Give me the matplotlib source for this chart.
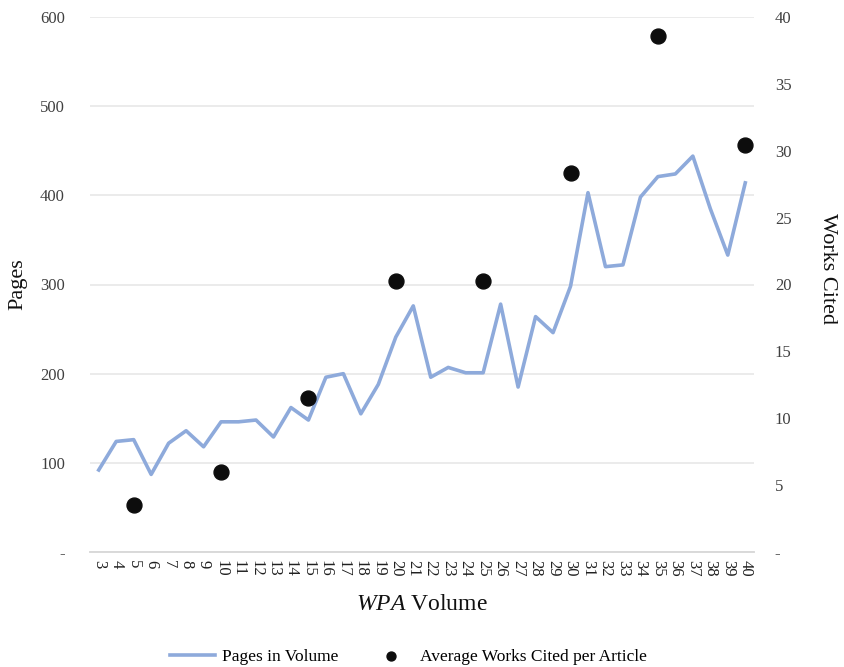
import matplotlib
matplotlib.use("Agg")
import matplotlib.pyplot as plt
from matplotlib.ticker import FuncFormatter

plt.rcParams['font.family'] = ['Liberation Serif', 'DejaVu Serif']
plt.rcParams['mathtext.fontset'] = 'custom'
plt.rcParams['mathtext.rm'] = 'Liberation Serif'
plt.rcParams['mathtext.it'] = 'Liberation Serif:italic'

volumes = list(range(3, 41))
pages = [92, 124, 126, 87, 122, 136, 118, 146, 146, 148, 129, 162, 148, 196, 200,
         155, 188, 241, 276, 196, 207, 201, 201, 278, 185, 264, 246, 298, 403, 320,
         322, 398, 421, 424, 444, 385, 333, 414]
cited_volumes = [5, 10, 15, 20, 25, 30, 35, 40]
cited_values = [3.5, 6.0, 11.5, 20.25, 20.25, 28.3, 38.6, 30.4]

line_color = '#8eaadb'
fig = plt.figure(figsize=(8.44, 6.67), dpi=100)
ax = fig.add_axes([90/844, 1-552/667, (754-90)/844, (552-17)/667])
ax2 = ax.twinx()

xpos = list(range(len(volumes)))
ln, = ax.plot(xpos, pages, color=line_color, lw=2.6, label='Pages in Volume', zorder=3)
cpos = [volumes.index(v) for v in cited_volumes]
sc = ax2.scatter(cpos, cited_values, s=115, color='#0d0d0d', zorder=4,
                 label='Average Works Cited per Article')

ax.set_xlim(-0.5, len(volumes) - 0.5)
ax.set_ylim(0, 600)
ax2.set_ylim(0, 40)
ax.set_yticks(range(0, 601, 100))
ax2.set_yticks(range(0, 41, 5))
fmt = FuncFormatter(lambda v, p: '-' if v == 0 else f'{int(v)}')
ax.yaxis.set_major_formatter(fmt)
ax2.yaxis.set_major_formatter(fmt)
ax.set_xticks(xpos)
ax.set_xticklabels([str(v) for v in volumes], rotation=-90, fontsize=11)

ax.grid(axis='y', color='#e8e8e8', lw=1.2, zorder=0)
ax.set_axisbelow(True)
for a in (ax, ax2):
    for s in ('top', 'left', 'right'):
        a.spines[s].set_visible(False)
    a.spines['bottom'].set_color('#d9d9d9')
    a.spines['bottom'].set_linewidth(1.2)
    a.tick_params(length=0, labelsize=12, colors='#404040')
ax.tick_params(axis='x', pad=6, labelcolor='#202020')
ax.tick_params(axis='y', pad=18)
ax2.tick_params(axis='y', pad=15)

ax.set_ylabel('Pages', fontsize=16, color='#111111', va='center', ha='center')
ax.yaxis.set_label_coords(-0.108, 0.5)
ax2.set_ylabel('Works Cited', fontsize=16, rotation=-90, color='#111111',
               va='center', ha='center')
ax2.yaxis.set_label_coords(1.111, 0.53)
ax.set_xlabel(r'$\it{WPA}$ Volume', fontsize=17, labelpad=12, color='#111111')

fig.legend(handles=[ln, sc], loc='lower center', bbox_to_anchor=(0.484, -0.02),
           ncol=2, frameon=False, fontsize=12.5, handlelength=2.6, columnspacing=1.7,
           handletextpad=0.4, markerscale=0.6)

fig.savefig('out.png', dpi=100)
